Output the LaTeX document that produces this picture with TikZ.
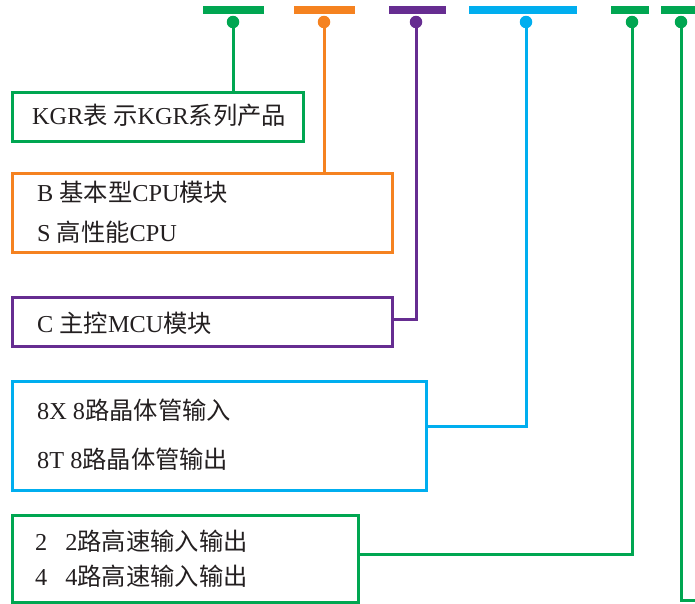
\documentclass[tikz,border=0pt]{standalone}
\usepackage{fontspec}
\setmainfont{Liberation Serif}
\newfontfamily\cjk{Noto Sans CJK SC}
\usetikzlibrary{positioning}
\definecolor{kgreen}{RGB}{0,166,81}
\definecolor{korange}{RGB}{245,130,32}
\definecolor{kpurple}{RGB}{102,45,145}
\definecolor{kblue}{RGB}{0,174,239}
\definecolor{ktext}{RGB}{35,31,32}
\newcommand{\zh}[1]{{\cjk #1}}
\tikzset{bar/.style={fill=#1, draw=none, minimum height=8pt, inner sep=0pt},
         pin/.style={circle, fill=#1, draw=none, minimum size=12.5pt, inner sep=0pt},
         frame/.style={draw=#1, line width=3pt, anchor=north west, inner sep=0pt},
         wire/.style={draw=#1, line width=3pt},
         txt/.style={anchor=west, inner sep=0pt, text=ktext, font=\fontsize{24.3}{28}\selectfont}}

\begin{document}
\begin{tikzpicture}[x=1pt,y=-1pt]
   \useasboundingbox (0,0) rectangle (695,603);
   % code bars
   \node[bar=kgreen,  minimum width=61pt]  (b1) at (233.5,10) {};
   \node[bar=korange, minimum width=61pt]  (b2) at (324.5,10) {};
   \node[bar=kpurple, minimum width=57pt]  (b3) at (417.5,10) {};
   \node[bar=kblue,   minimum width=108pt] (b4) at (523,10) {};
   \node[bar=kgreen,  minimum width=38pt]  (b5) at (630,10) {};
   \node[bar=kgreen,  minimum width=40pt]  (b6) at (681,10) {};
   % pins
   \node[pin=kgreen]  (d1) at (233,22) {};
   \node[pin=korange] (d2) at (324,22) {};
   \node[pin=kpurple] (d3) at (416,22) {};
   \node[pin=kblue]   (d4) at (526,22) {};
   \node[pin=kgreen]  (d5) at (632,22) {};
   \node[pin=kgreen]  (d6) at (681,22) {};
   % boxes
   \node[frame=kgreen,  minimum width=291pt, minimum height=49pt]  (kgr)  at (10.5,90.5) {};
   \node[frame=korange, minimum width=380pt, minimum height=79pt]  (cpu)  at (10.5,171.5) {};
   \node[frame=kpurple, minimum width=380pt, minimum height=49pt]  (mcu)  at (10.5,295.5) {};
   \node[frame=kblue,   minimum width=414pt, minimum height=109pt] (dio)  at (10.5,379.5) {};
   \node[frame=kgreen,  minimum width=346pt, minimum height=87pt]  (hsio) at (10.5,513.5) {};
   \coordinate (tail) at (700,600.5);
   % texts
   \node[txt] (t1) at (32,115) {KGR\zh{表 示}KGR\zh{系列产品}};
   \node[txt] (t2) at (37,192) {B \zh{基本型}CPU\zh{模块}};
   \node[txt] (t3) at (37,232) {S \zh{高性能}CPU};
   \node[txt] (t4) at (37,323) {C \zh{主控}MCU\zh{模块}};
   \node[txt] (t5) at (37,410) {8X 8\zh{路晶体管输入}};
   \node[txt] (t6) at (37,459) {8T 8\zh{路晶体管输出}};
   \node[txt] (t7) at (35,541) {2\hspace{18pt}2\zh{路高速输入输出}};
   \node[txt] (t8) at (35,576) {4\hspace{18pt}4\zh{路高速输入输出}};
   % connectors
   \draw[wire=kgreen]  (d1) -- (d1 |- kgr.north);
   \draw[wire=korange] (d2) -- (d2 |- cpu.north);
   \draw[wire=kpurple] (d3) |- ([yshift=2pt]mcu.east);
   \draw[wire=kblue]   (d4) |- ([yshift=9pt]dio.east);
   \draw[wire=kgreen]  (d5) |- ([yshift=4pt]hsio.east);
   \draw[wire=kgreen]  (d6) |- (tail);
\end{tikzpicture}
\end{document}
